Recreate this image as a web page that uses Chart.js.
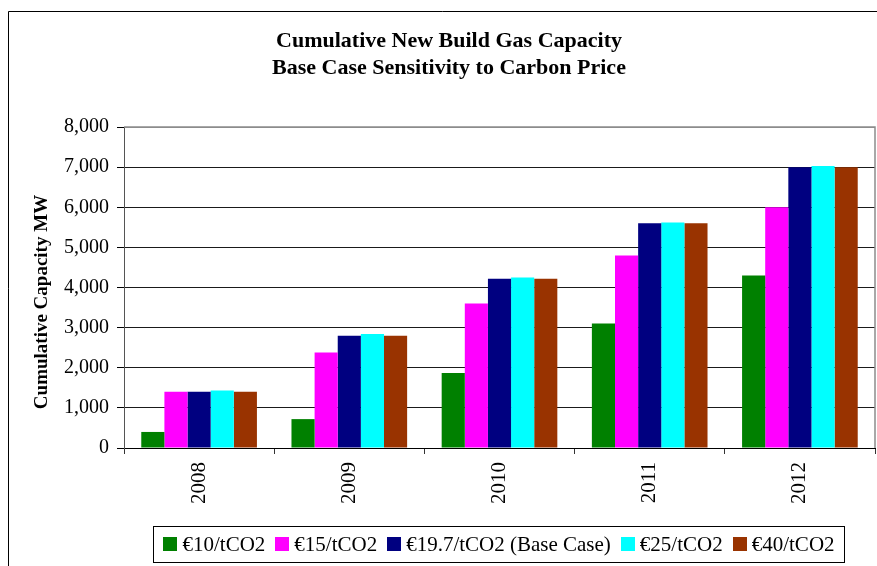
<!DOCTYPE html>
<html>
<head>
<meta charset="utf-8">
<script src="https://cdn.jsdelivr.net/npm/chart.js@4.4.1/dist/chart.umd.min.js"></script>
<style>
  html, body { margin: 0; padding: 0; background: #ffffff; }
  #wrap { width: 877px; height: 566px; }
</style>
</head>
<body>
<div id="wrap"><canvas id="chart" width="877" height="566"></canvas></div>
<script>
// Categories and series (MW of cumulative new build gas capacity)
const years = ['2008', '2009', '2010', '2011', '2012'];
const seriesNames = ['€10/tCO2', '€15/tCO2', '€19.7/tCO2 (Base Case)', '€25/tCO2', '€40/tCO2'];
const carbon10 = [400, 720, 1870, 3100, 4300];
const carbon15 = [1400, 2380, 3600, 4800, 6000];
const carbon19_7 = [1400, 2800, 4220, 5600, 7000];
const carbon25 = [1430, 2840, 4250, 5620, 7030];
const carbon40 = [1400, 2800, 4220, 5600, 7000];
const yMin = 0;
const yMax = 8000;
const yStep = 1000;
const titleLines = ['Cumulative New Build Gas Capacity', 'Base Case Sensitivity to Carbon Price'];
const yAxisTitle = 'Cumulative Capacity MW';

const seriesColors = ['#008000', '#FF00FF', '#000080', '#00FFFF', '#993300'];
const seriesValues = [carbon10, carbon15, carbon19_7, carbon25, carbon40];
const SERIF = '"Liberation Serif", "Times New Roman", serif';

// Frame, titles and the boxed legend
const decorations = {
  id: 'decorations',
  beforeDraw(chart) {
    const ctx = chart.ctx;
    ctx.save();
    ctx.fillStyle = '#ffffff';
    ctx.fillRect(0, 0, chart.width, chart.height);
    ctx.strokeStyle = '#000000';
    ctx.lineWidth = 1;
    ctx.beginPath();
    ctx.moveTo(8.5, chart.height);
    ctx.lineTo(8.5, 11.5);
    ctx.lineTo(chart.width, 11.5);
    ctx.stroke();
    ctx.restore();
  },
  afterDraw(chart) {
    const ctx = chart.ctx;
    const area = chart.chartArea;
    ctx.save();

    // plot frame (top / right)
    ctx.strokeStyle = '#8c8c8c';
    ctx.lineWidth = 1.5;
    ctx.beginPath();
    ctx.moveTo(area.left, area.top);
    ctx.lineTo(area.right, area.top);
    ctx.lineTo(area.right, area.bottom);
    ctx.stroke();

    // chart title
    ctx.fillStyle = '#000000';
    ctx.textAlign = 'center';
    ctx.textBaseline = 'middle';
    ctx.font = 'bold 22px ' + SERIF;
    ctx.fillText(titleLines[0], 449, 41);
    ctx.fillText(titleLines[1], 449, 68);

    // y axis title
    ctx.save();
    ctx.translate(42, 302);
    ctx.rotate(-Math.PI / 2);
    ctx.font = 'bold 19px ' + SERIF;
    ctx.fillText(yAxisTitle, 0, 0);
    ctx.restore();

    // legend
    const ds = chart.data.datasets;
    ctx.font = '21px ' + SERIF;
    const box = 14, textGap = 5, itemGap = 10;
    const widths = ds.map(d => ctx.measureText(d.label).width);
    let total = 0;
    widths.forEach((w, i) => { total += box + textGap + w + (i < widths.length - 1 ? itemGap : 0); });
    const boxL = 153.5, boxR = 844.5, boxT = 526.5, boxB = 562.5;
    const cy = 544;
    let x = (boxL + boxR) / 2 - total / 2;
    ctx.strokeStyle = '#000000';
    ctx.lineWidth = 1;
    ctx.strokeRect(boxL, boxT, boxR - boxL, boxB - boxT);
    ctx.textAlign = 'left';
    ds.forEach((d, i) => {
      ctx.fillStyle = d.backgroundColor;
      ctx.fillRect(Math.round(x), cy - box / 2, box, box);
      ctx.fillStyle = '#000000';
      ctx.fillText(d.label, x + box + textGap, cy + 1);
      x += box + textGap + widths[i] + itemGap;
    });
    ctx.restore();
  }
};

new Chart(document.getElementById('chart'), {
  type: 'bar',
  data: {
    labels: years,
    datasets: seriesNames.map((name, i) => ({
      label: name,
      data: seriesValues[i],
      backgroundColor: seriesColors[i],
      borderWidth: 0,
      categoryPercentage: 0.77,
      barPercentage: 1.0
    }))
  },
  options: {
    responsive: false,
    animation: false,
    devicePixelRatio: 1,
    layout: { padding: { left: 0, right: 2, top: 127, bottom: 48 } },
    plugins: {
      legend: { display: false },
      title: { display: false },
      tooltip: { enabled: false }
    },
    scales: {
      x: {
        grid: { drawOnChartArea: false, drawTicks: true, tickLength: 6, offset: true, color: '#333333' },
        border: { color: '#000000' },
        ticks: {
          minRotation: 90, maxRotation: 90, padding: 8,
          color: '#000000', font: { family: SERIF, size: 21 }
        },
        afterFit(scale) { scale.height = 70; }
      },
      y: {
        min: yMin, max: yMax,
        grid: {
          color: (c) => (c.tick && c.tick.value === yMax ? '#8c8c8c' : '#1a1a1a'),
          tickColor: '#000000', tickLength: 7
        },
        border: { color: '#555555' },
        ticks: {
          stepSize: yStep, padding: 8, color: '#000000',
          font: { family: SERIF, size: 20 },
          callback: (v) => Number(v).toLocaleString('en-US')
        },
        afterFit(scale) { scale.width = 124; }
      }
    }
  },
  plugins: [decorations]
});
</script>
</body>
</html>
